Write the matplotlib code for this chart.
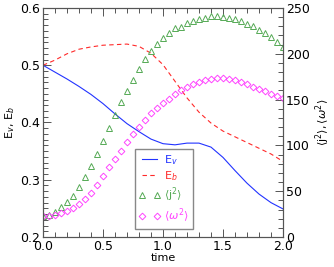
import numpy as np
import matplotlib
matplotlib.use("Agg")
import matplotlib.pyplot as plt
from matplotlib.ticker import MultipleLocator

# energies (left axis), sampled every 0.1
t_line = np.round(np.arange(21) * 0.1, 2)
E_v = [0.500, 0.488, 0.476, 0.463, 0.449, 0.433, 0.415, 0.398, 0.384, 0.371, 0.363,
       0.361, 0.364, 0.364, 0.357, 0.339, 0.316, 0.294, 0.275, 0.260, 0.249]
E_b = [0.500, 0.509, 0.520, 0.528, 0.532, 0.535, 0.536, 0.537, 0.533, 0.521, 0.501,
       0.472, 0.443, 0.418, 0.399, 0.385, 0.375, 0.365, 0.355, 0.345, 0.332]

# <j^2>, <w^2> (right axis), sampled every 0.05
t_mark = np.round(np.arange(41) * 0.05, 2)
j2 = [22.4, 23.7, 27.5, 32.3, 38.3, 45.0, 54.3, 65.2, 77.2, 90.6, 104.8,
      118.7, 133.2, 147.1, 159.7, 171.7, 183.1, 194.0, 202.7, 210.7, 217.6,
      222.7, 227.8, 229.6, 233.3, 236.1, 237.7, 239.1, 241.0, 241.3, 240.5,
      239.4, 237.7, 235.5, 232.2, 230.0, 226.3, 222.4, 218.0, 212.9, 207.1]
w2 = [22.5, 22.8, 24.0, 26.0, 28.5, 32.0, 36.0, 41.5, 48.0, 57.0, 66.6,
      76.0, 85.2, 94.4, 103.6, 112.5, 120.4, 127.7, 135.0, 141.0, 146.0,
      151.0, 155.8, 160.3, 164.3, 167.4, 169.5, 171.4, 172.8, 173.3, 173.3,
      172.5, 171.1, 168.9, 166.7, 163.8, 161.6, 159.4, 156.4, 154.3, 151.4]

c_v, c_b, c_j, c_w = "#2233ff", "#ff2a2a", "#55aa55", "#ff44ff"
frame = "#555555"

plt.rcParams["font.size"] = 8
fig = plt.figure(figsize=(3.34, 2.67), dpi=100)
ax = fig.add_axes([0.1287, 0.1124, 0.7186, 0.8576])
ax2 = ax.twinx()

l1, = ax.plot(t_line, E_v, color=c_v, lw=0.8, label="E$_v$")
l2, = ax.plot(t_line, E_b, color=c_b, lw=0.8, ls=(0, (4, 3)), label="E$_b$")
l3, = ax2.plot(t_mark, j2, ls="none", marker="^", ms=4.2, mfc="none",
               mec=c_j, mew=0.7, label=r"$\langle\mathrm{j}^2\rangle$")
l4, = ax2.plot(t_mark, w2, ls="none", marker="D", ms=3.4, mfc="none",
               mec=c_w, mew=0.7, label=r"$\langle\omega^2\rangle$")

ax.set_xlim(0, 2.0)
ax.set_ylim(0.2, 0.6)
ax2.set_ylim(0, 250)

ax.xaxis.set_major_locator(MultipleLocator(0.5))
ax.xaxis.set_minor_locator(MultipleLocator(0.1))
ax.yaxis.set_major_locator(MultipleLocator(0.1))
ax.yaxis.set_minor_locator(MultipleLocator(0.01))
ax2.yaxis.set_major_locator(MultipleLocator(50))
ax2.yaxis.set_minor_locator(MultipleLocator(10))
ax.xaxis.set_major_formatter(plt.FormatStrFormatter("%.1f"))
ax.yaxis.set_major_formatter(plt.FormatStrFormatter("%.1f"))

ax.tick_params(which="both", direction="in", top=True, right=False, color=frame,
               width=0.7, labelsize=9, pad=2)
ax.tick_params(which="major", length=6)
ax.tick_params(which="minor", length=3.5)
ax2.tick_params(which="both", direction="in", color=frame, width=0.7,
                labelsize=9, pad=2)
ax2.tick_params(which="major", length=6)
ax2.tick_params(which="minor", length=3.5)
for a in (ax, ax2):
    for s in a.spines.values():
        s.set_color(frame)
        s.set_linewidth(0.8)

ax.set_xlabel("time", fontsize=8, labelpad=0)
ax.set_ylabel("E$_v$, E$_b$", fontsize=8, labelpad=2)
ax2.set_ylabel(r"$\langle\mathrm{j}^2\rangle,\langle\omega^2\rangle$", fontsize=8, labelpad=3)

leg = ax2.legend(handles=[l1, l2, l3, l4], loc="lower left",
                 bbox_to_anchor=(0.383, 0.035), borderaxespad=0, numpoints=2,
                 fontsize=8, handlelength=1.9, handletextpad=0.3,
                 labelspacing=0.22, borderpad=0.38, fancybox=False, framealpha=1)
leg.get_frame().set_edgecolor("#888888")
leg.get_frame().set_linewidth(1.0)
for txt, c in zip(leg.get_texts(), [c_v, c_b, c_j, c_w]):
    txt.set_color(c)

fig.savefig("out.png", dpi=100)
